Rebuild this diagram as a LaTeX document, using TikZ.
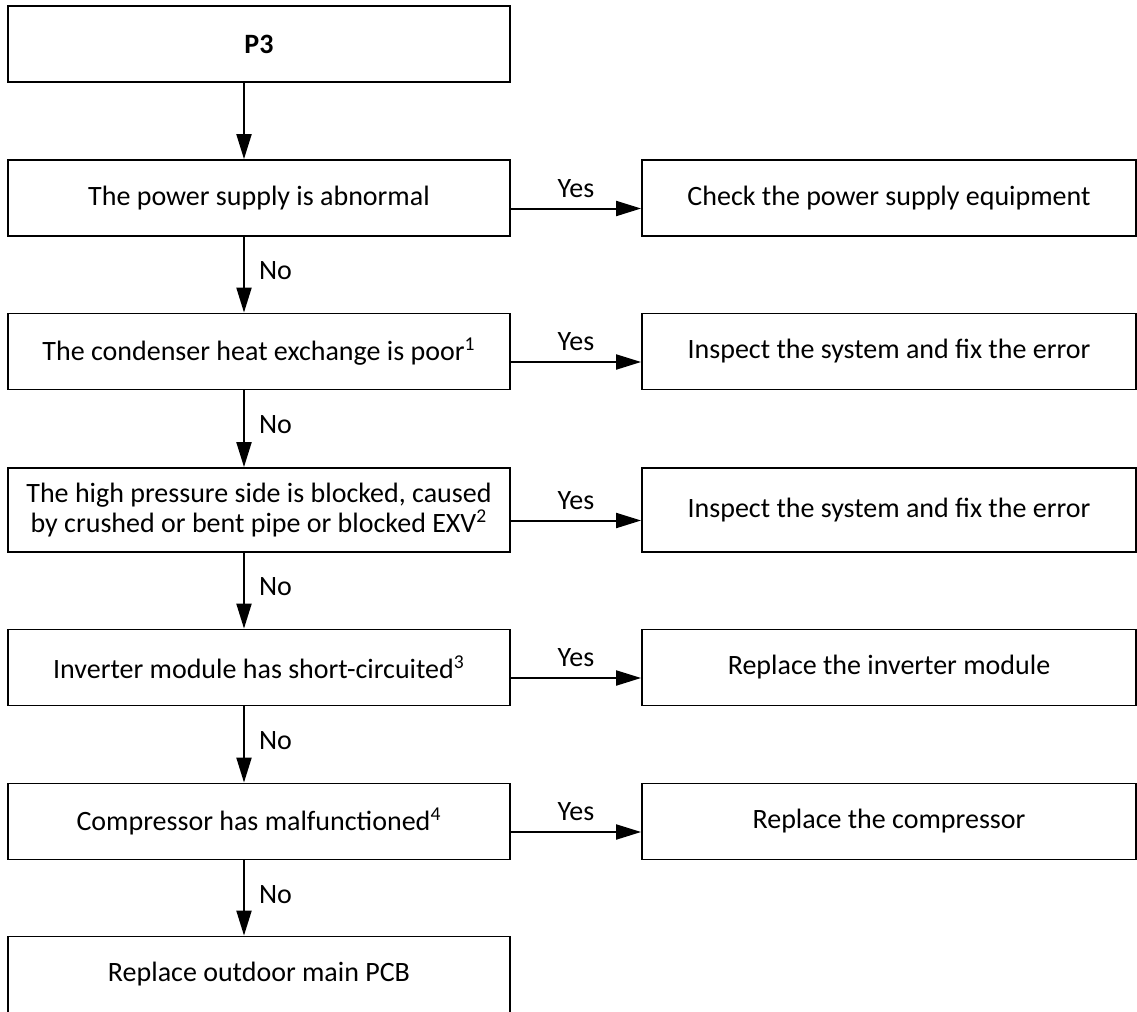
\documentclass[tikz,border=0pt]{standalone}
\usepackage{fontspec}
\setmainfont{Carlito}
\usetikzlibrary{arrows.meta}

\begin{document}
\begin{tikzpicture}[x=0.5pt,y=-0.5pt,
  box/.style={draw,line width=0.9pt,minimum width=251pt,minimum height=38pt,inner sep=0pt,align=center,font=\fontsize{14}{15.2}\selectfont},
  act/.style={box,minimum width=247pt},
  arr/.style={line width=1pt,-{Triangle[length=12.5pt,width=7.5pt]}},
  lab/.style={inner sep=0pt,font=\fontsize{14}{15.2}\selectfont}]
  \useasboundingbox (0,0) rectangle (1137,1012);
  \node[box,font=\fontsize{14}{15.2}\selectfont\bfseries] (p3) at (259,44) {P3};
  \node[box] (q1) at (259,198) {The power supply is abnormal};
  \node[act] (a1) at (889,198) {Check the power supply equipment};
  \node[box] (q2) at (259,351.5) {The condenser heat exchange is poor\textsuperscript{1}};
  \node[act] (a2) at (889,351.5) {Inspect the system and fix the error};
  \node[box,minimum height=42pt] (q3) at (259,510) {The high pressure side is blocked, caused\\by crushed or bent pipe or blocked EXV\textsuperscript{2}};
  \node[act,minimum height=42pt] (a3) at (889,510) {Inspect the system and fix the error};
  \node[box] (q4) at (259,667.5) {Inverter module has short-circuited\textsuperscript{3}};
  \node[act] (a4) at (889,667.5) {Replace the inverter module};
  \node[box] (q5) at (259,821.5) {Compressor has malfunctioned\textsuperscript{4}};
  \node[act] (a5) at (889,821.5) {Replace the compressor};
  \node[box] (pcb) at (259,974.5) {Replace outdoor main PCB};
  \draw[arr] ([xshift=-7.5pt]p3.south) -- ([xshift=-7.5pt]q1.north);
  \draw[arr] ([xshift=-7.5pt]q1.south) -- node[lab,right=7pt,pos=0.45] {No} ([xshift=-7.5pt]q2.north);
  \draw[arr] ([xshift=-7.5pt]q2.south) -- node[lab,right=7pt,pos=0.45] {No} ([xshift=-7.5pt]q3.north);
  \draw[arr] ([xshift=-7.5pt]q3.south) -- node[lab,right=7pt,pos=0.45] {No} ([xshift=-7.5pt]q4.north);
  \draw[arr] ([xshift=-7.5pt]q4.south) -- node[lab,right=7pt,pos=0.45] {No} ([xshift=-7.5pt]q5.north);
  \draw[arr] ([xshift=-7.5pt]q5.south) -- node[lab,right=7pt,pos=0.45] {No} ([xshift=-7.5pt]pcb.north);
  \draw[arr] ([yshift=-5.25pt]q1.east) -- node[lab,above=5pt] {Yes} ([yshift=-5.25pt]a1.west);
  \draw[arr] ([yshift=-5.25pt]q2.east) -- node[lab,above=5pt] {Yes} ([yshift=-5.25pt]a2.west);
  \draw[arr] ([yshift=-5.25pt]q3.east) -- node[lab,above=5pt] {Yes} ([yshift=-5.25pt]a3.west);
  \draw[arr] ([yshift=-5.25pt]q4.east) -- node[lab,above=5pt] {Yes} ([yshift=-5.25pt]a4.west);
  \draw[arr] ([yshift=-5.25pt]q5.east) -- node[lab,above=5pt] {Yes} ([yshift=-5.25pt]a5.west);
\end{tikzpicture}
\end{document}
